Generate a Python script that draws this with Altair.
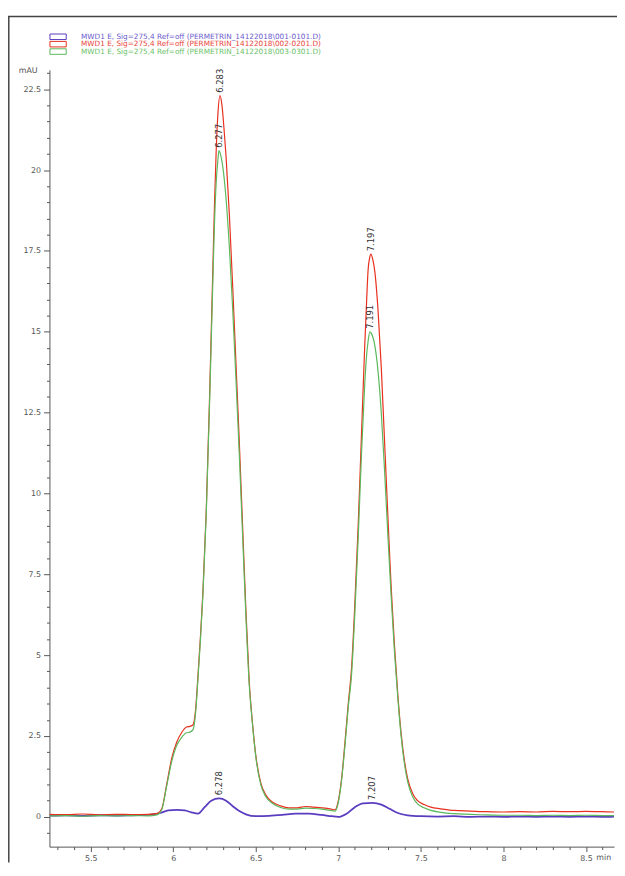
import altair as alt
import pandas as pd

# ---------------- data ----------------
series_names = [
    "MWD1 E, Sig=275,4 Ref=off (PERMETRIN_14122018\\001-0101.D)",
    "MWD1 E, Sig=275,4 Ref=off (PERMETRIN_14122018\\002-0201.D)",
    "MWD1 E, Sig=275,4 Ref=off (PERMETRIN_14122018\\003-0301.D)",
]
line_colors = ["#5a3cc0", "#e8301e", "#5cb85c"]
legend_colors = ["#6a5acd", "#e8443a", "#6abf69"]

blue_t = [5.25, 5.35, 5.45, 5.55, 5.65, 5.75, 5.85, 5.92, 5.97, 6.02, 6.07, 6.11, 6.15,
          6.19, 6.23, 6.278, 6.32, 6.36, 6.40, 6.44, 6.50, 6.58, 6.66, 6.74, 6.82, 6.90,
          6.96, 7.00, 7.05, 7.10, 7.15, 7.207, 7.26, 7.31, 7.36, 7.42, 7.50, 7.60, 7.70,
          7.80, 7.90, 8.0, 8.1, 8.2, 8.3, 8.4, 8.5, 8.6, 8.67]
blue_v = [0.04, 0.05, 0.03, 0.05, 0.04, 0.05, 0.06, 0.12, 0.2, 0.22, 0.2, 0.14, 0.1,
          0.3, 0.5, 0.57, 0.5, 0.33, 0.18, 0.08, 0.02, 0.03, 0.06, 0.1, 0.1, 0.06,
          0.02, 0.0, 0.1, 0.3, 0.42, 0.43, 0.38, 0.25, 0.12, 0.05, 0.02, 0.01, 0.02,
          0.0, 0.01, 0.0, 0.01, 0.0, 0.01, 0.0, 0.01, 0.0, 0.01]

red_t = [5.25, 5.35, 5.45, 5.55, 5.65, 5.75, 5.85, 5.9, 5.93, 5.96, 5.99, 6.02, 6.05,
         6.08, 6.1, 6.12, 6.135, 6.15, 6.165, 6.18, 6.2, 6.22, 6.24, 6.25, 6.26, 6.27,
         6.283, 6.295, 6.31, 6.32, 6.34, 6.36, 6.38, 6.40, 6.42, 6.44, 6.46, 6.48, 6.50,
         6.53, 6.56, 6.60, 6.65, 6.70, 6.75, 6.80, 6.85, 6.90, 6.95, 6.98, 7.00, 7.02,
         7.04, 7.06, 7.08, 7.10, 7.12, 7.14, 7.16, 7.17, 7.18, 7.19, 7.197, 7.21, 7.22,
         7.24, 7.26, 7.28, 7.30, 7.32, 7.34, 7.36, 7.38, 7.40, 7.42, 7.45, 7.48, 7.52,
         7.56, 7.62, 7.70, 7.80, 7.90, 8.0, 8.1, 8.2, 8.3, 8.4, 8.5, 8.6, 8.67]
red_v = [0.08, 0.07, 0.09, 0.06, 0.08, 0.07, 0.08, 0.1, 0.25, 1.0, 1.8, 2.3, 2.6,
         2.78, 2.8, 2.85, 3.3, 4.4, 5.6, 7.0, 9.5, 13.0, 17.0, 19.0, 20.6, 21.7,
         22.3, 22.0, 21.1, 20.4, 18.6, 16.4, 14.0, 11.6, 9.0, 6.4, 4.2, 2.9, 1.9,
         1.05, 0.68, 0.46, 0.34, 0.28, 0.28, 0.32, 0.3, 0.28, 0.25, 0.22, 0.5, 1.2,
         2.3, 3.5, 4.6, 6.6, 9.0, 11.8, 14.6, 15.8, 16.9, 17.3, 17.4, 17.2, 16.9,
         15.7, 13.9, 11.6, 9.3, 7.1, 5.3, 3.8, 2.6, 1.75, 1.18, 0.72, 0.5, 0.38,
         0.3, 0.25, 0.2, 0.18, 0.16, 0.15, 0.16, 0.15, 0.17, 0.16, 0.17, 0.16, 0.15]

green_t = [5.25, 5.35, 5.45, 5.55, 5.65, 5.75, 5.85, 5.9, 5.93, 5.96, 5.99, 6.02, 6.05,
           6.08, 6.1, 6.12, 6.135, 6.15, 6.165, 6.18, 6.2, 6.22, 6.24, 6.25, 6.26, 6.27,
           6.277, 6.29, 6.30, 6.32, 6.34, 6.36, 6.38, 6.40, 6.42, 6.44, 6.46, 6.48, 6.50,
           6.53, 6.56, 6.60, 6.65, 6.70, 6.75, 6.80, 6.85, 6.90, 6.95, 6.98, 7.00, 7.02,
           7.04, 7.06, 7.08, 7.10, 7.12, 7.14, 7.16, 7.17, 7.18, 7.191, 7.20, 7.22,
           7.24, 7.26, 7.28, 7.30, 7.32, 7.34, 7.36, 7.38, 7.40, 7.42, 7.45, 7.48, 7.52,
           7.56, 7.62, 7.70, 7.80, 7.90, 8.0, 8.1, 8.2, 8.3, 8.4, 8.5, 8.6, 8.67]
green_v = [0.03, 0.04, 0.02, 0.04, 0.03, 0.04, 0.03, 0.06, 0.22, 0.95, 1.7, 2.2, 2.45,
           2.6, 2.62, 2.7, 3.2, 4.3, 5.5, 6.9, 9.4, 12.8, 16.6, 18.4, 19.6, 20.3,
           20.6, 20.4, 20.1, 19.1, 17.6, 15.7, 13.5, 11.2, 8.7, 6.2, 4.1, 2.85, 1.85,
           1.0, 0.63, 0.42, 0.29, 0.24, 0.24, 0.27, 0.26, 0.24, 0.2, 0.18, 0.45, 1.15,
           2.2, 3.4, 4.4, 6.3, 8.6, 11.2, 13.4, 14.2, 14.7, 15.0, 14.95, 14.6,
           13.8, 12.5, 10.7, 8.7, 6.8, 5.1, 3.7, 2.5, 1.65, 1.08, 0.62, 0.4, 0.28,
           0.2, 0.14, 0.1, 0.08, 0.06, 0.05, 0.05, 0.04, 0.05, 0.04, 0.05, 0.04, 0.04]

peak_t = [6.283, 6.277, 6.278, 7.197, 7.191, 7.207]
peak_v = [22.3, 20.6, 0.58, 17.4, 15.0, 0.43]
peak_text = ["6.283", "6.277", "6.278", "7.197", "7.191", "7.207"]

x_ticks = [5.3, 5.4, 5.5, 5.6, 5.7, 5.8, 5.9, 6.0, 6.1, 6.2, 6.3, 6.4, 6.5, 6.6, 6.7,
           6.8, 6.9, 7.0, 7.1, 7.2, 7.3, 7.4, 7.5, 7.6, 7.7, 7.8, 7.9, 8.0, 8.1, 8.2,
           8.3, 8.4, 8.5, 8.6]
y_ticks = [-0.5, 0.0, 0.5, 1.0, 1.5, 2.0, 2.5, 3.0, 3.5, 4.0, 4.5, 5.0, 5.5, 6.0, 6.5,
           7.0, 7.5, 8.0, 8.5, 9.0, 9.5, 10.0, 10.5, 11.0, 11.5, 12.0, 12.5, 13.0, 13.5,
           14.0, 14.5, 15.0, 15.5, 16.0, 16.5, 17.0, 17.5, 18.0, 18.5, 19.0, 19.5, 20.0,
           20.5, 21.0, 21.5, 22.0, 22.5, 23.0]

# ---------------- chart ----------------
FONT = "DejaVu Sans"
AX = "#555555"

x_major = "abs(datum.value*2 - round(datum.value*2)) < 0.01"
y_major = "abs(datum.value/2.5 - round(datum.value/2.5)) < 0.01"

x_enc = alt.X(
    "t:Q",
    scale=alt.Scale(domain=[5.25, 8.67], nice=False, zero=False),
    axis=alt.Axis(
        title="", values=x_ticks, grid=False, orient="bottom",
        labelExpr=f"({x_major}) ? format(datum.value, '~g') : ''",
        tickSize={"condition": {"test": x_major, "value": 5}, "value": 3},
        tickColor=AX, domainColor=AX, labelColor=AX, labelFont=FONT,
        labelFontSize=8, labelPadding=3, labelOverlap=False, labelFlush=False,
        tickWidth=1, domainWidth=1,
    ),
)
y_enc = alt.Y(
    "v:Q",
    scale=alt.Scale(domain=[-0.92, 23.1], nice=False, zero=False),
    axis=alt.Axis(
        title="", values=y_ticks, grid=False, orient="left",
        labelExpr=f"({y_major}) ? format(datum.value, '~g') : ''",
        tickSize={"condition": {"test": y_major, "value": 6}, "value": 3},
        tickColor=AX, domainColor=AX, labelColor=AX, labelFont=FONT,
        labelFontSize=8, labelPadding=3, labelOverlap=False, labelFlush=False,
        tickWidth=1, domainWidth=1,
    ),
)

def trace(ts, vs, color, width):
    df = pd.DataFrame({"t": ts, "v": vs})
    return alt.Chart(df).mark_line(
        color=color, strokeWidth=width, clip=True, interpolate="monotone"
    ).encode(x=x_enc, y=y_enc)

layers = [
    trace(blue_t, blue_v, line_colors[0], 1.8),
    trace(red_t, red_v, line_colors[1], 1.2),
    trace(green_t, green_v, line_colors[2], 1.2),
]

peaks = pd.DataFrame({"t": peak_t, "v": peak_v, "label": peak_text})
layers.append(
    alt.Chart(peaks).mark_text(
        angle=270, align="left", baseline="middle", dx=3,
        font=FONT, fontSize=8.5, color="#333333",
    ).encode(x=x_enc, y=y_enc, text="label:N")
)

dummy = pd.DataFrame({"a": [0]})

# legend (drawn by hand: each entry has its own text colour)
row_y = [-33.5, -26, -18.5]
for name, col, lcol, yy in zip(series_names, line_colors, legend_colors, row_y):
    layers.append(
        alt.Chart(dummy).mark_rect(fill="white", stroke=col, strokeWidth=1).encode(
            x=alt.value(0.5), x2=alt.value(17), y=alt.value(yy - 2.8), y2=alt.value(yy + 2.8)
        )
    )
    layers.append(
        alt.Chart(dummy).mark_text(
            align="left", baseline="middle", font=FONT, fontSize=7.4, color=lcol
        ).encode(x=alt.value(32), y=alt.value(yy), text=alt.value(name))
    )

# axis unit labels
layers.append(
    alt.Chart(dummy).mark_text(
        align="right", baseline="middle", font=FONT, fontSize=8, color=AX
    ).encode(x=alt.value(-12), y=alt.value(1), text=alt.value("mAU"))
)
layers.append(
    alt.Chart(dummy).mark_text(
        align="left", baseline="top", font=FONT, fontSize=8, color=AX
    ).encode(x=alt.value(554), y=alt.value(795), text=alt.value("min"))
)

# outer frame (left and top edges)
layers.append(
    alt.Chart(dummy).mark_rule(color="#444444", strokeWidth=1.5).encode(
        x=alt.value(-41.2), y=alt.value(-54), y2=alt.value(803)
    )
)
layers.append(
    alt.Chart(dummy).mark_rule(color="#444444", strokeWidth=1.5).encode(
        x=alt.value(-42), x2=alt.value(575), y=alt.value(-54)
    )
)

chart = (
    alt.layer(*layers)
    .properties(
        width=572,
        height=787,
        autosize=alt.AutoSizeParams(type="none"),
        padding={"left": 42, "top": 57, "right": 3, "bottom": 16},
        background="white",
    )
    .configure_view(strokeWidth=0)
)

chart.save("out.html", embed_options={"renderer": "svg", "actions": False})
